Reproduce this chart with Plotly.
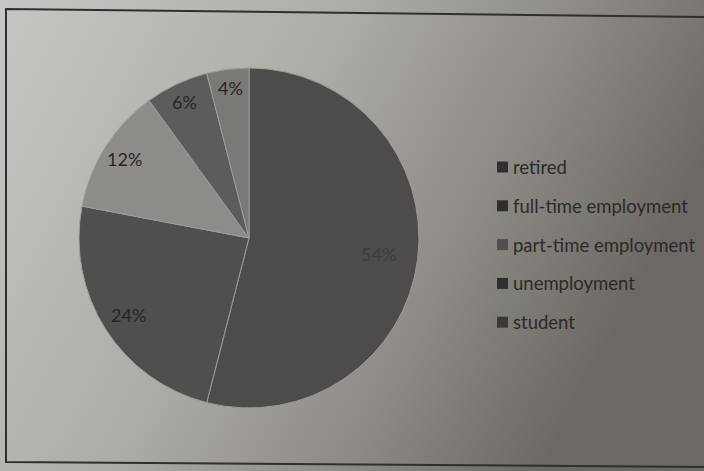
import base64
import math
import plotly.graph_objects as go

# Employment status shares (percent)
categories = ["retired", "full-time employment", "part-time employment", "unemployment", "student"]
shares = [54, 24, 12, 6, 4]
slice_colors = ["#4d4c4a", "#504f4d", "#8d8c88", "#5d5c5a", "#7b7976"]
legend_swatch = ["#2f2f2f", "#2f2f2f", "#4e4e4e", "#2f2f2f", "#3a3a3a"]

W, H = 704, 471
# pie placement in pixels
cx, cy, R = 249, 238, 170


def to_paper(x, y):
    return x / W, 1 - y / H


fig = go.Figure()

fig.add_trace(go.Pie(
    labels=categories,
    values=shares,
    sort=False,
    direction="clockwise",
    rotation=0,
    marker=dict(colors=slice_colors, line=dict(color="#9d9c98", width=1)),
    textinfo="none",
    hoverinfo="label+percent",
    showlegend=False,
    domain=dict(x=[(cx - R) / W, (cx + R) / W], y=[1 - (cy + R) / H, 1 - (cy - R) / H]),
))

# percentage labels near the rim; big slices keep theirs a little further in
total = sum(shares)
acc = 0
for name, v in zip(categories, shares):
    mid = (acc + v / 2) / total * 2 * math.pi
    acc += v
    r = (0.9 - 0.0025 * v) * R
    px = cx + r * math.sin(mid)
    py = cy - r * math.cos(mid)
    ax, ay = to_paper(px, py)
    fig.add_annotation(
        x=ax, y=ay, xref="paper", yref="paper",
        xanchor="center", yanchor="middle",
        text=f"{round(v / total * 100)}%", showarrow=False,
        font=dict(family="Lato", size=18, color="#3d3d3c" if v > 50 else "#262626"),
    )

# legend: square swatch followed by the category name
leg_x, leg_y0, leg_step, sq = 497, 167, 38.8, 11
for i, (name, c) in enumerate(zip(categories, legend_swatch)):
    yc = leg_y0 + i * leg_step
    sx0, sy0 = to_paper(leg_x, yc - sq / 2)
    sx1, sy1 = to_paper(leg_x + sq, yc + sq / 2)
    fig.add_shape(type="rect", xref="paper", yref="paper",
                  x0=sx0, y0=sy1, x1=sx1, y1=sy0,
                  fillcolor=c, line=dict(width=0))
    tx, ty = to_paper(leg_x + sq + 3, yc)
    fig.add_annotation(x=tx, y=ty, xref="paper", yref="paper",
                       text=name, showarrow=False, xanchor="left", yanchor="middle",
                       font=dict(family="Lato", size=18.5, color="#2a2a2a"))

# paper background with a soft lighting gradient
svg = f"""<svg xmlns='http://www.w3.org/2000/svg' width='{W}' height='{H}'>
<defs><linearGradient id='g' x1='0' y1='0' x2='1' y2='0.35'>
<stop offset='0' stop-color='#c7c6c2'/>
<stop offset='0.45' stop-color='#aeaca7'/>
<stop offset='0.75' stop-color='#8d8984'/>
<stop offset='1' stop-color='#6c6863'/>
</linearGradient></defs>
<rect width='{W}' height='{H}' fill='url(#g)'/>
</svg>"""
src = "data:image/svg+xml;base64," + base64.b64encode(svg.encode()).decode()
fig.add_layout_image(dict(source=src, xref="paper", yref="paper", x=0, y=1,
                          sizex=1, sizey=1, sizing="stretch", layer="below",
                          xanchor="left", yanchor="top"))

# printed frame around the chart
x0, y0 = to_paper(6, 9)
x1, y1 = to_paper(704, 17)
x2, y2 = to_paper(704, 467)
x3, y3 = to_paper(6, 462)
fig.add_shape(type="path", xref="paper", yref="paper",
              path=f"M {x1},{y1} L {x0},{y0} L {x3},{y3} L {x2},{y2}",
              line=dict(color="#2f2f31", width=2))

fig.update_layout(
    width=W, height=H,
    margin=dict(l=0, r=0, t=0, b=0),
    paper_bgcolor="#a9a8a4",
    plot_bgcolor="rgba(0,0,0,0)",
    showlegend=False,
)

fig.write_html("out.html")
